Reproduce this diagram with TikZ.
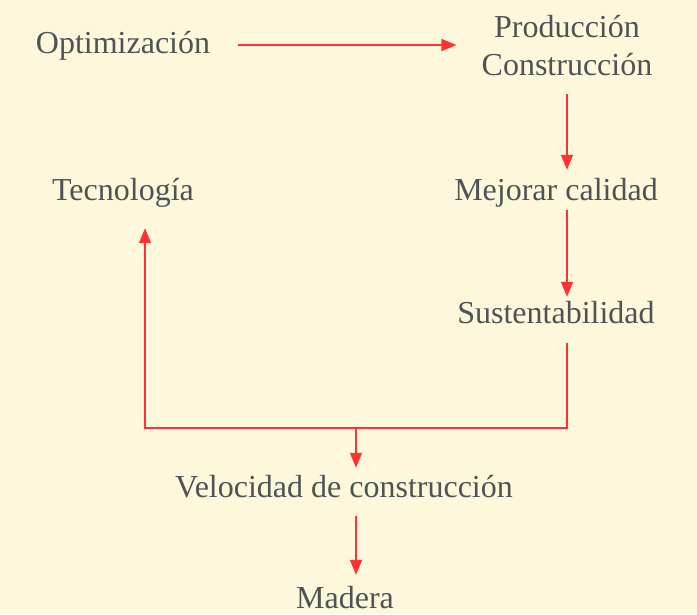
\documentclass[tikz,border=0pt]{standalone}
\usepackage{fontspec}
\setmainfont{Liberation Serif}
\usetikzlibrary{arrows.meta}
\definecolor{bg}{HTML}{FDF8DC}
\definecolor{txt}{HTML}{4E5454}
\definecolor{arr}{HTML}{FF3333}
\begin{document}
\begin{tikzpicture}[x=1pt,y=-1pt,
  lbl/.style={inner sep=0pt, text=txt, font=\fontsize{32}{38}\selectfont, text height=23pt, text depth=7pt, anchor=base},
  lbltwo/.style={inner sep=0pt, text=txt, font=\fontsize{32}{38}\selectfont, align=center, anchor=base},
  conn/.style={draw=arr, line width=1.5pt, -{Triangle[length=15pt,width=12pt]}}]
\useasboundingbox[fill=bg] (0,0) rectangle (697,614);
\node[lbl] (opt) at (123,53) {Optimización};
\node[lbltwo] (prod) at (567,75) {Producción\\Construcción};
\node[lbl] (mej) at (556,200) {Mejorar calidad};
\node[lbl] (tec) at (123,200) {Tecnología};
\node[lbl] (sus) at (556,323) {Sustentabilidad};
\node[lbl] (vel) at (344,497) {Velocidad de construcción};
\node[lbl] (mad) at (345,608) {Madera};
\coordinate (jl) at (145,428);
\coordinate (jm) at (356,428);
\draw[conn, shorten <=28pt, shorten >=25pt] (opt.east) -- (opt.east -| prod.west);
\draw[conn, shorten >=7pt] (prod.south |- 0,94) -- (prod.south |- mej.north);
\draw[conn, shorten <=3pt, shorten >=3pt] (mej.south -| prod.south) -- (sus.north -| prod.south);
\draw[conn, shorten <=13pt, shorten >=21pt] (sus.south -| prod.south) |- (jl) -- (tec.south -| jl);
\draw[conn, shorten >=6pt] (jm) -- (jm |- vel.north);
\draw[conn, shorten <=12pt, shorten >=10pt] (vel.south -| jm) -- (mad.north -| jm);
\end{tikzpicture}
\end{document}
